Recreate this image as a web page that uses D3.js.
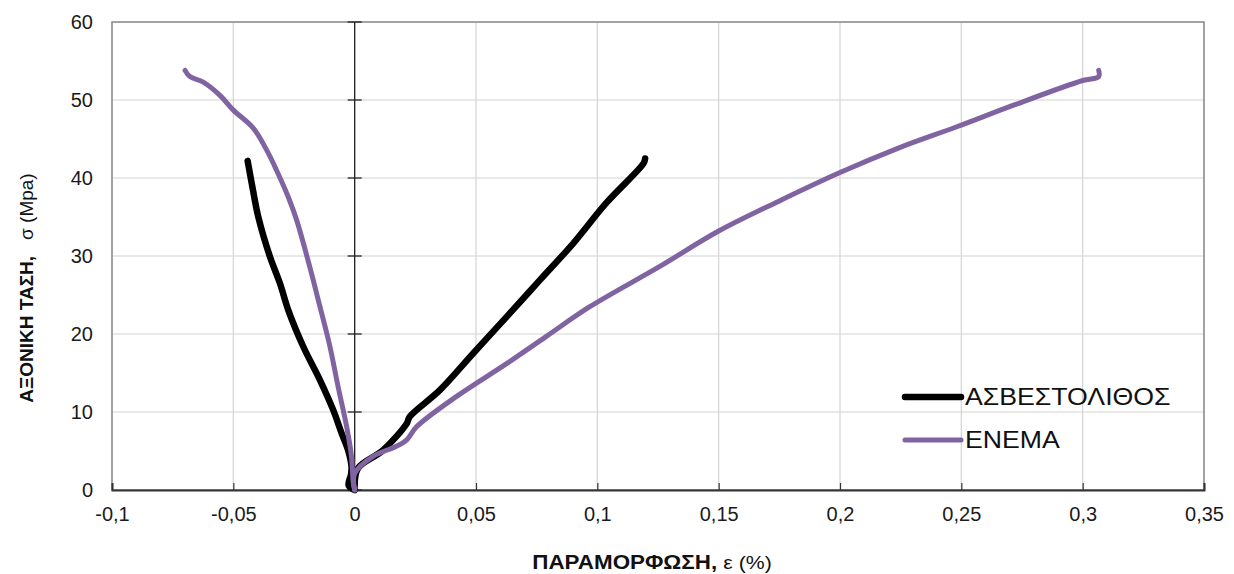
<!DOCTYPE html>
<html>
<head>
<meta charset="utf-8">
<script src="https://cdn.jsdelivr.net/npm/d3@7"></script>
<style>
  html, body { margin: 0; padding: 0; background: #fff; }
  svg { display: block; font-family: "Liberation Sans", Arial, sans-serif; }
</style>
</head>
<body>
<svg id="chart" width="1234" height="574"></svg>
<script>
// Stress–strain curves: axial (positive) and lateral (negative) strain vs axial stress
const seriesNames = ["ΑΣΒΕΣΤΟΛΙΘΟΣ", "ΕΝΕΜΑ"];
const seriesColors = ["#000000", "#8064A2"];

// ΑΣΒΕΣΤΟΛΙΘΟΣ – lateral branch
const limestoneLateralStrain = [0, -0.0025, -0.0015, -0.0013, -0.0027, -0.0054, -0.0089, -0.0143, -0.0212, -0.0274, -0.0308, -0.0349, -0.0397, -0.0420, -0.0441];
const limestoneLateralStress = [0, 0.6, 2.0, 3.0, 5.1, 7.3, 10.3, 14.1, 18.4, 23.1, 26.5, 29.9, 35.0, 38.6, 42.2];
// ΑΣΒΕΣΤΟΛΙΘΟΣ – axial branch
const limestoneAxialStrain = [0, 0.0014, 0.0117, 0.0214, 0.0227, 0.0351, 0.0488, 0.0626, 0.0763, 0.0900, 0.1037, 0.1191, 0.1197];
const limestoneAxialStress = [0.5, 2.8, 5.1, 8.5, 9.4, 12.8, 17.5, 22.2, 26.9, 31.6, 36.8, 41.9, 42.5];

// ΕΝΕΜΑ – lateral branch
const groutLateralStrain = [0, -0.0006, -0.0013, -0.0033, -0.0068, -0.0102, -0.0143, -0.0185, -0.0239, -0.0274, -0.0322, -0.0363, -0.0418, -0.0500, -0.0555, -0.0624, -0.0679, -0.0699];
const groutLateralStress = [0, 1.0, 4.3, 8.1, 13.2, 18.4, 23.5, 28.6, 34.6, 37.6, 41.0, 43.6, 46.4, 48.7, 50.6, 52.3, 53.0, 53.8];
// ΕΝΕΜΑ – axial branch
const groutAxialStrain = [0, 0, 0.0076, 0.0172, 0.0214, 0.0255, 0.0420, 0.0626, 0.0790, 0.0969, 0.1254, 0.1500, 0.1746, 0.2000, 0.2238, 0.2484, 0.2721, 0.3000, 0.3066, 0.3066];
const groutAxialStress = [0, 2.1, 4.3, 5.6, 6.4, 8.1, 12.0, 16.2, 19.7, 23.5, 28.6, 33.2, 37.0, 40.7, 43.8, 46.6, 49.4, 52.5, 53.0, 53.8];

const xTicks = [-0.1, -0.05, 0, 0.05, 0.1, 0.15, 0.2, 0.25, 0.3, 0.35];
const yTicks = [0, 10, 20, 30, 40, 50, 60];

const svg = d3.select("#chart");
const plot = { left: 112, right: 1204, top: 22, bottom: 490 };

const x = d3.scaleLinear().domain([-0.1, 0.35]).range([plot.left, plot.right]);
const y = d3.scaleLinear().domain([0, 60]).range([plot.bottom, plot.top]);

const locale = d3.formatLocale({ decimal: ",", thousands: ".", grouping: [3], currency: ["", "€"], minus: "-" });
const fmtX = v => locale.format("~g")(+v.toFixed(2));

// gridlines
const grid = svg.append("g").attr("stroke", "#d4d4d4").attr("stroke-width", 1.2);
xTicks.forEach(t => grid.append("line")
  .attr("x1", x(t)).attr("x2", x(t)).attr("y1", plot.top).attr("y2", plot.bottom));
yTicks.forEach(t => grid.append("line")
  .attr("x1", plot.left).attr("x2", plot.right).attr("y1", y(t)).attr("y2", y(t)));

// plot frame
svg.append("rect")
  .attr("x", plot.left).attr("y", plot.top)
  .attr("width", plot.right - plot.left).attr("height", plot.bottom - plot.top)
  .attr("fill", "none").attr("stroke", "#8a8a8a").attr("stroke-width", 1.5);

// bottom axis with inward ticks
const xAxis = d3.axisBottom(x).tickValues(xTicks).tickSize(-7).tickPadding(17).tickFormat(fmtX);
const gx = svg.append("g").attr("transform", `translate(0,${plot.bottom})`).call(xAxis);
gx.select(".domain").attr("stroke", "#333").attr("stroke-width", 2);
gx.selectAll(".tick line").attr("stroke", "#333").attr("stroke-width", 1.2);
gx.selectAll(".tick text").attr("font-size", 20).attr("fill", "#1a1a1a")
  .attr("font-family", "'Liberation Sans', Arial, sans-serif");

// vertical axis through zero with cross ticks
const yAxisLine = svg.append("g").attr("transform", `translate(${x(0)},0)`);
yAxisLine.append("line").attr("y1", plot.top).attr("y2", plot.bottom)
  .attr("stroke", "#222").attr("stroke-width", 1.3);
yTicks.forEach(t => yAxisLine.append("line")
  .attr("x1", -7).attr("x2", 7).attr("y1", y(t)).attr("y2", y(t))
  .attr("stroke", "#222").attr("stroke-width", 1.3));

// y tick labels on the left of the frame
svg.append("g").selectAll("text").data(yTicks).join("text")
  .attr("x", plot.left - 19).attr("y", d => y(d)).attr("dy", "0.35em")
  .attr("text-anchor", "end").attr("font-size", 20).attr("fill", "#1a1a1a")
  .text(d => d);

// curves
const line = d3.line().x(d => x(d[0])).y(d => y(d[1])).curve(d3.curveCatmullRom.alpha(0.5));
const zip = (a, b) => a.map((v, i) => [v, b[i]]);
const curves = [
  { pts: zip(limestoneLateralStrain, limestoneLateralStress), c: seriesColors[0], w: 6.5 },
  { pts: zip(limestoneAxialStrain, limestoneAxialStress), c: seriesColors[0], w: 6.5 },
  { pts: zip(groutLateralStrain, groutLateralStress), c: seriesColors[1], w: 5 },
  { pts: zip(groutAxialStrain, groutAxialStress), c: seriesColors[1], w: 5 }
];
svg.append("g").selectAll("path").data(curves).join("path")
  .attr("d", d => line(d.pts))
  .attr("fill", "none").attr("stroke", d => d.c).attr("stroke-width", d => d.w)
  .attr("stroke-linejoin", "round").attr("stroke-linecap", "round");

// legend
const legend = svg.append("g").attr("transform", "translate(905,397)");
seriesNames.forEach((name, i) => {
  const g = legend.append("g").attr("transform", `translate(0,${i * 43})`);
  g.append("line").attr("x1", 0).attr("x2", 56).attr("y1", 0).attr("y2", 0)
    .attr("stroke", seriesColors[i]).attr("stroke-width", i === 0 ? 6.5 : 5)
    .attr("stroke-linecap", "round");
  g.append("text").attr("transform", "translate(60,0) scale(1.16,1)").attr("dy", "0.36em")
    .attr("font-size", 23).attr("fill", "#111").text(name);
});

// axis titles
const xTitle = svg.append("text").attr("transform", "translate(652,569) scale(1.12,1)")
  .attr("text-anchor", "middle").attr("fill", "#111");
xTitle.append("tspan").attr("font-weight", "bold").attr("font-size", 20).text("ΠΑΡΑΜΟΡΦΩΣΗ, ");
xTitle.append("tspan").attr("font-size", 19).text("ε (%)");

const yTitle = svg.append("text").attr("transform", "translate(33,288) rotate(-90)")
  .attr("text-anchor", "middle").attr("fill", "#111");
yTitle.append("tspan").attr("font-weight", "bold").attr("font-size", 19).text("ΑΞΟΝΙΚΗ ΤΑΣΗ,");
yTitle.append("tspan").attr("font-size", 19).attr("dx", 16).text("σ (Mpa)");
</script>
</body>
</html>
